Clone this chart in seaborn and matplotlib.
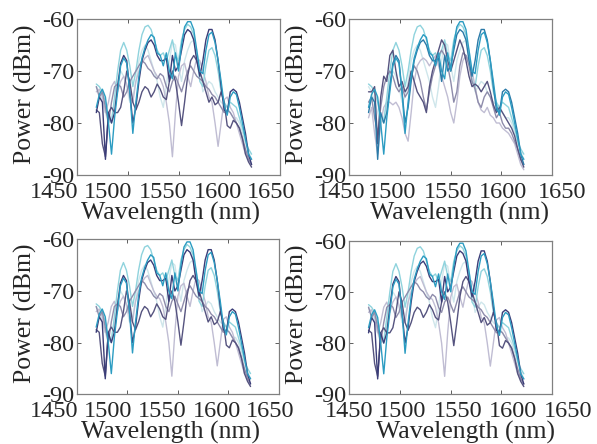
import matplotlib
matplotlib.use("Agg")
import matplotlib.pyplot as plt
import seaborn as sns

# ---------------- data ----------------
wavelength = [1469, 1472, 1475, 1478, 1481, 1484, 1487, 1490, 1493, 1496, 1499, 1502, 1505,
              1508, 1511, 1514, 1517, 1520, 1523, 1526, 1529, 1532, 1535, 1538, 1541, 1544,
              1547, 1550, 1553, 1556, 1559, 1562, 1565, 1568, 1571, 1574, 1577, 1580, 1583,
              1586, 1589, 1592, 1595, 1598, 1601, 1604, 1607, 1610, 1613, 1616, 1619, 1622]

teal = [-77, -74.5, -73.5, -75, -80, -86, -79, -74, -69, -67.5, -68.5, -74, -82,
        -76, -71, -67.5, -65.5, -64, -63, -63.5, -66.5, -67, -69, -66.5, -70, -71.5,
        -66.5, -70, -65, -61.5, -60.5, -60.5, -62, -66, -70, -70.5, -66, -63, -62.5,
        -64.5, -68, -72, -76.5, -78.5, -75, -74, -74.5, -77, -80, -83, -86, -87]

navy = [-78, -75, -76, -87, -78, -80, -78, -73, -68.5, -67, -68, -74, -80,
        -77, -72, -68, -66, -64.5, -64, -65, -67, -68, -68, -67.5, -72, -67,
        -70, -69, -66, -63, -62, -62.5, -64, -68, -71, -68, -64, -62, -62,
        -64, -68, -73, -77.5, -78, -74, -73.5, -74, -76, -79, -82, -86, -88]

light_cyan = [-72.5, -73, -74, -76, -79, -80, -75, -70, -66, -64.5, -66, -69, -73,
              -70, -66, -63, -61.5, -61.2, -62, -64, -66, -67, -66.5, -68, -66, -64,
              -67, -68, -64, -62, -61, -61.5, -63, -67, -72, -73, -69, -66, -65.5,
              -67, -70, -74, -76, -77, -76, -76.5, -77, -79, -81, -83.5, -85, -86]

pale_cyan = [-73, -74, -76, -78, -80, -79, -76, -72, -70, -71, -73, -76, -75,
             -72, -68, -66, -65, -66, -68, -70, -72, -75, -77, -73, -68, -64.5,
             -65, -69, -72, -68, -66, -64.5, -64, -66, -70, -74, -73, -72, -72.5,
             -74, -75, -76, -76.5, -77, -78, -79, -79, -80, -82, -84, -85.5, -87]

slate_a = [-77.5, -78, -84, -86.5, -78, -77, -78, -78, -77, -74, -70, -72, -76,
           -77.5, -76, -74, -73, -73.5, -75, -74, -72.5, -73.5, -75, -75.5, -72, -70,
           -72, -76, -80.5, -76, -71, -68, -67, -68, -70, -72, -74, -76, -75,
           -76.5, -76, -74, -76, -80.5, -81, -79.5, -80, -81, -83, -86, -87.5, -88.5]

lavender_a = [-74, -73.5, -75, -78, -76, -73, -72, -74, -72, -71, -72.5, -75, -76,
              -72, -70, -68.5, -67.5, -67, -68.5, -70, -71, -71.5, -73, -76, -80, -86.5,
              -78, -71, -69, -68.5, -71, -73, -70, -67.5, -68, -70, -72, -75, -76,
              -80, -84.5, -80, -75.5, -75, -77, -78, -80, -82, -84, -86, -86.5, -87]

mauve_a = [-73, -75, -74, -77, -80, -76, -73, -72.5, -73, -75, -74, -72, -71,
           -70, -69, -68, -68.5, -69.5, -70, -71, -71.5, -70.5, -71, -73, -74, -72,
           -71, -72.5, -74, -72, -70, -69, -70, -71, -71.5, -72, -73, -73.5, -74.5,
           -75, -76, -77, -78, -77.5, -78, -79, -80, -81, -83, -85, -87, -88]

slate_b = [-74, -74, -73, -84, -75, -71, -72, -67, -66, -70, -73, -72, -74,
           -73, -70, -72, -74, -75, -76, -78, -73, -70, -68, -66, -64, -65,
           -68, -70, -68, -66, -64, -65.5, -68, -71, -73, -72.5, -73, -74, -73,
           -72, -74, -76.5, -78, -77, -78, -79, -80, -81, -82.5, -85, -87, -88.5]

lavender_b = [-79, -77, -82, -86, -80, -77, -76, -76, -76.5, -76, -77, -79, -82,
              -83.5, -78, -72, -69, -68, -67.5, -68, -69, -68, -67, -69, -71, -73,
              -75, -78, -80, -76, -71, -68, -67, -68, -70, -73, -76, -77.5, -78,
              -77, -78.5, -79, -80, -80, -81, -81.5, -82, -83, -84, -86, -88, -89]

mauve_b = [-76, -75, -79, -82, -77, -73, -71, -70, -71, -73, -74, -73, -75,
           -74, -71, -69, -70, -72, -75, -77.5, -74, -71, -69, -67, -66, -67,
           -69, -72, -76, -74, -69, -66.5, -67, -69, -72, -73.5, -76, -77, -75,
           -74, -75, -77, -79, -78, -80, -81, -81, -82, -83.5, -85, -87, -88]

x_ticks = [1450, 1500, 1550, 1600, 1650]
y_ticks = [-60, -70, -80, -90]

# ---------------- styling / layout ----------------
sns.set_style("ticks")
plt.rcParams["font.family"] = ["Liberation Serif", "DejaVu Serif"]
plt.rcParams["axes.unicode_minus"] = False

colors = {
    "pale": "#cfe6eb", "lavender": "#c0bdd3", "light": "#8fd3dd", "mauve": "#8e8cab",
    "slate": "#55537f", "navy": "#3b3d78", "dteal": "#2b7aa8", "teal": "#2b9cc2",
}

set_a = [(pale_cyan, "pale"), (lavender_a, "lavender"), (light_cyan, "light"),
         (mauve_a, "mauve"), (slate_a, "slate"), (navy, "navy"), (teal, "teal")]
set_b = [(pale_cyan, "pale"), (lavender_b, "lavender"), (light_cyan, "light"),
         (mauve_b, "mauve"), (slate_b, "slate"), (navy, "dteal"), (teal, "teal")]

panels = [
    # rect, lines, tick-label x (axes frac), xlabel x
    ([0.129, 0.606, 0.340, 0.351], set_a, [-0.113, 0.153, 0.424, 0.695, 0.956], 0.463),
    ([0.585, 0.606, 0.340, 0.351], set_b, [-0.040, 0.212, 0.485, 0.759, 1.047], 0.545),
    ([0.129, 0.112, 0.338, 0.349], set_a, [-0.113, 0.153, 0.424, 0.695, 0.956], 0.463),
    ([0.585, 0.112, 0.340, 0.346], set_a, [-0.003, 0.260, 0.535, 0.806, 1.080], 0.575),
]

fig = plt.figure(figsize=(5.97, 4.44), dpi=100)
fs_tick = 17.5
fs_label = 18.5

for rect, lines, tick_x, xlab_x in panels:
    ax = fig.add_axes(rect)
    for vals, cname in lines:
        sns.lineplot(x=wavelength, y=vals, ax=ax, color=colors[cname], lw=1.0,
                     estimator=None, sort=False)
    ax.set_xlim(1450, 1650)
    ax.set_ylim(-90, -60)
    ax.set_xticks(x_ticks)
    ax.set_yticks(y_ticks)
    ax.set_yticklabels([str(v) for v in y_ticks])
    ax.tick_params(direction="in", top=True, right=True, length=3, width=0.6,
                   color="#444444", labelbottom=False, labelsize=fs_tick, pad=2)
    for s in ax.spines.values():
        s.set_color("#808080")
        s.set_linewidth(0.9)
    for xt, lab in zip(tick_x, x_ticks):
        ax.text(xt, -0.045, str(lab), transform=ax.transAxes, ha="center", va="top",
                fontsize=fs_tick)
    ax.set_xlabel("Wavelength (nm)", fontsize=fs_label)
    ax.xaxis.set_label_coords(xlab_x, -0.175)
    ax.set_ylabel("Power (dBm)", fontsize=fs_label, va="center")
    ax.yaxis.set_label_coords(-0.255, 0.52)

fig.savefig("out.png", dpi=100)
